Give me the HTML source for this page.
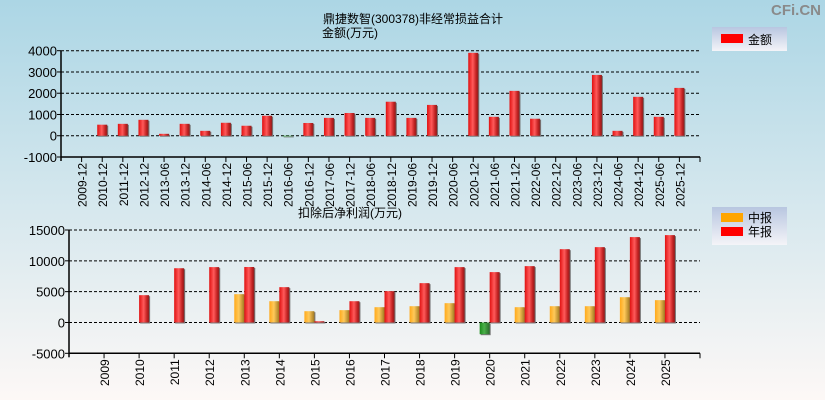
<!DOCTYPE html>
<html><head><meta charset="utf-8"><style>
body{margin:0;width:825px;height:400px;overflow:hidden;font-family:"Liberation Sans","Noto Sans CJK SC",sans-serif;}
svg{display:block}
</style></head><body>
<svg id="c" width="825" height="400" xmlns="http://www.w3.org/2000/svg">
<defs>
<linearGradient id="bg" x1="0" y1="0" x2="0" y2="1"><stop offset="0" stop-color="#acd6e5"/><stop offset="1" stop-color="#fdf8f6"/></linearGradient>
<linearGradient id="gr" x1="0" y1="0" x2="1" y2="0"><stop offset="0" stop-color="#e01010"/><stop offset="0.45" stop-color="#ff5a5a"/><stop offset="0.8" stop-color="#c02020"/><stop offset="1" stop-color="#8a2020"/></linearGradient>
<linearGradient id="go" x1="0" y1="0" x2="1" y2="0"><stop offset="0" stop-color="#ffa91a"/><stop offset="0.45" stop-color="#ffc95a"/><stop offset="1" stop-color="#a07820"/></linearGradient>
<linearGradient id="gg" x1="0" y1="0" x2="1" y2="0"><stop offset="0" stop-color="#1a8a1a"/><stop offset="0.45" stop-color="#4ab04a"/><stop offset="1" stop-color="#2a6a2a"/></linearGradient>
<linearGradient id="lg" x1="0" y1="0" x2="0" y2="1"><stop offset="0" stop-color="#b8c6e0"/><stop offset="1" stop-color="#f4f4f8"/></linearGradient>
</defs>
<rect width="825" height="400" fill="url(#bg)"/>
<text x="821" y="15" text-anchor="end" font-size="15" font-weight="bold" fill="#8a8a8a">CFi.CN</text>
<text x="323" y="23" font-size="12" fill="#000">鼎捷数智(300378)非经常损益合计</text>
<text x="322" y="37" font-size="12" fill="#000">金额(万元)</text>
<text x="298" y="217" font-size="12" fill="#000">扣除后净利润(万元)</text>
<g><rect x="712" y="27" width="75" height="24" fill="url(#lg)"/><rect x="721" y="34" width="22" height="9" fill="#f00"/><text x="748" y="44" font-size="12">金额</text></g>
<g><rect x="712" y="207" width="75" height="38" fill="url(#lg)"/><rect x="721" y="213" width="22" height="9" fill="#ffa500"/><text x="748" y="222" font-size="12">中报</text><rect x="721" y="227" width="22" height="9" fill="#f00"/><text x="748" y="236" font-size="12">年报</text></g>
<g id="top"></g><g id="bot"></g>
</svg>
<script>
const topCats=["2009-12","2010-12","2011-12","2012-12","2013-06","2013-12","2014-06","2014-12","2015-06","2015-12","2016-06","2016-12","2017-06","2017-12","2018-06","2018-12","2019-06","2019-12","2020-06","2020-12","2021-06","2021-12","2022-06","2022-12","2023-06","2023-12","2024-06","2024-12","2025-06","2025-12"];
const topVals=[0,520,560,750,90,560,230,610,470,940,-30,600,840,1070,840,1600,840,1450,0,3900,890,2110,800,0,0,2860,230,1830,890,2250];
const topTicks=[4000,3000,2000,1000,0,-1000];
const botCats=["2009","2010","2011","2012","2013","2014","2015","2016","2017","2018","2019","2020","2021","2022","2023","2024","2025"];
const midVals=[0,0,0,0,4590,3450,1830,2000,2480,2640,3130,-1900,2480,2640,2640,4100,3620];
const annVals=[0,4430,8800,8980,9000,5730,200,3450,5080,6380,8980,8170,9140,11890,12220,13850,14170];
const botTicks=[15000,10000,5000,0,-5000];
const NS="http://www.w3.org/2000/svg";
function mk(p,t,a){const e=document.createElementNS(NS,t);for(const k in a)e.setAttribute(k,a[k]);p.appendChild(e);return e;}
function chart(g,L,R,yTop,yBot,vMax,vMin,cats,ticks,rotLen){
  const y=v=>yTop+(vMax-v)/(vMax-vMin)*(yBot-yTop);
  const step=(R-L)/(cats.length+1);
  const x=i=>L+step*(i+1);
  ticks.forEach(t=>{
    if(t!==vMin){const l=mk(g,'line',{x1:L,x2:R,y1:y(t),y2:y(t),stroke:'#000','stroke-dasharray':'3,2','stroke-width':1});
    
    }
    const tx=mk(g,'text',{x:L-4,y:y(t)+5,'text-anchor':'end','font-size':13,fill:'#000'});tx.textContent=t;
    
    
    mk(g,'line',{x1:L-4,x2:L,y1:y(t),y2:y(t),stroke:'#000'});
  });
  mk(g,'line',{x1:L,x2:L,y1:yTop,y2:yBot+4,stroke:'#000','stroke-width':1.5});
  mk(g,'line',{x1:L,x2:R,y1:yBot,y2:yBot,stroke:'#000','stroke-width':1.5});
  mk(g,'line',{x1:R,x2:R,y1:yBot,y2:yBot+5,stroke:'#000'});
  cats.forEach((c,i)=>{
    mk(g,'line',{x1:x(i),x2:x(i),y1:yBot,y2:yBot+5,stroke:'#000'});
    const t=mk(g,'text',{transform:`translate(${x(i)+5},${yBot+6}) rotate(-90)`,'text-anchor':'end','font-size':12,fill:'#000'});t.textContent=c;
    
    
  });
  return {x,y};
}
function bar(g,xl,w,y0,y1,neg,fill){
  const top=Math.min(y0,y1),h=Math.abs(y1-y0);
  if(h<0.5)return;
  mk(g,'rect',{x:xl+1,y:top+1,width:w,height:h,fill:'#777'});
  const r=mk(g,'rect',{x:xl,y:top,width:w,height:h,fill:fill});
  
  
}
const gt=document.getElementById('top');
const a=chart(gt,61,700,50.7,157,4000,-1000,topCats,topTicks);
topVals.forEach((v,i)=>bar(gt,a.x(i)-5,10,a.y(0),a.y(v),v<0,v<0?'url(#gg)':'url(#gr)'));
const gb=document.getElementById('bot');
const b=chart(gb,69,700,230,353.3,15000,-5000,botCats,botTicks);
midVals.forEach((v,i)=>bar(gb,b.x(i)-10,10,b.y(0),b.y(v),v<0,v<0?'url(#gg)':'url(#go)'));
annVals.forEach((v,i)=>bar(gb,b.x(i),10,b.y(0),b.y(v),v<0,v<0?'url(#gg)':'url(#gr)'));
</script>
</body></html>
